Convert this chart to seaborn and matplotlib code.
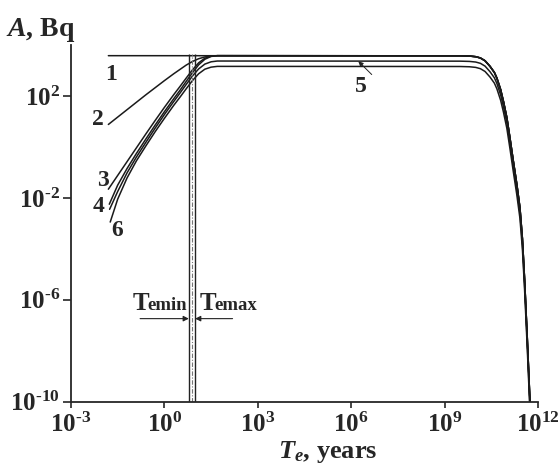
import numpy as np
import pandas as pd
import matplotlib
matplotlib.use("Agg")
import matplotlib.pyplot as plt
from matplotlib.ticker import NullLocator
import seaborn as sns

# ---- data (log10 of time in years, log10 of activity in Bq) ----
rise_logt = [-1.8, -1.5, -1.2, -0.9, -0.6, -0.3, 0.0, 0.3, 0.5, 0.7, 0.9, 1.1, 1.3, 1.5, 1.7]
rise_logt_4 = [-1.77, -1.5, -1.2, -0.9, -0.6, -0.3, 0.0, 0.3, 0.5, 0.7, 0.9, 1.1, 1.3, 1.5, 1.7]
rise_logt_5 = [-1.76, -1.5, -1.2, -0.9, -0.6, -0.3, 0.0, 0.3, 0.5, 0.7, 0.9, 1.1, 1.3, 1.5, 1.7]
rise_logt_6 = [-1.74, -1.5, -1.2, -0.9, -0.6, -0.3, 0.0, 0.3, 0.5, 0.7, 0.9, 1.1, 1.3, 1.5, 1.7]

curve1_rise = [3.58]
curve1_logt = [-1.8]
curve2_rise = [0.88, 1.17, 1.46, 1.75, 2.04, 2.32, 2.60, 2.87, 3.04, 3.21, 3.35, 3.46, 3.53, 3.57, 3.58]
curve3_rise = [-1.66, -1.12, -0.58, -0.04, 0.50, 1.03, 1.55, 2.05, 2.37, 2.70, 3.02, 3.30, 3.48, 3.56, 3.58]
curve4_rise = [-2.25, -1.50, -0.85, -0.26, 0.30, 0.85, 1.38, 1.89, 2.22, 2.57, 2.91, 3.22, 3.44, 3.55, 3.58]
curve5_rise = [-2.45, -1.75, -1.02, -0.40, 0.17, 0.73, 1.27, 1.78, 2.11, 2.45, 2.78, 3.06, 3.25, 3.34, 3.37]
curve6_rise = [-2.95, -2.05, -1.22, -0.55, 0.03, 0.59, 1.12, 1.63, 1.95, 2.28, 2.60, 2.87, 3.05, 3.13, 3.16]

decay_logt = [9.5, 9.8, 10.0, 10.15, 10.3, 10.46, 10.6, 10.68, 10.8, 10.89,
              11.0, 11.1, 11.2, 11.32, 11.42, 11.50, 11.57, 11.655, 11.75]
decline_top = [3.575, 3.565, 3.54, 3.49, 3.38, 3.16, 2.92, 2.70, 2.25, 1.79,
               1.15, 0.35, -0.49, -1.46, -2.38, -3.60, -5.20, -7.47, -10.2]
decline_mid = [3.365, 3.355, 3.33, 3.28, 3.17, 2.95, 2.71, 2.49, 2.04, 1.58,
               0.94, 0.14, -0.70, -1.67, -2.59, -3.81, -5.41, -7.68, -10.41]
decline_bot = [3.155, 3.145, 3.12, 3.07, 2.96, 2.74, 2.50, 2.28, 1.83, 1.37,
               0.73, -0.07, -0.91, -1.88, -2.80, -4.02, -5.62, -7.89, -10.62]

curve_names = ["1", "2", "3", "4", "5", "6"]
curve_parts = {
    "1": (curve1_logt, curve1_rise, decline_top),
    "2": (rise_logt, curve2_rise, decline_top),
    "3": (rise_logt, curve3_rise, decline_top),
    "4": (rise_logt_4, curve4_rise, decline_top),
    "5": (rise_logt_5, curve5_rise, decline_mid),
    "6": (rise_logt_6, curve6_rise, decline_bot),
}

# Te window (log10 years)
te_bounds_log = [0.785, 0.987]
te_mid_log = [0.885]

x_tick_exp = ["-3", "0", "3", "6", "9", "12"]
y_tick_exp = ["-10", "-6", "-2", "2"]

rows = []
for name in curve_names:
    lt, la_rise, la_decay = curve_parts[name]
    for t, a in zip(list(lt) + decay_logt, list(la_rise) + la_decay):
        rows.append({"curve": name, "T": 10.0 ** t, "A": 10.0 ** a})
df = pd.DataFrame(rows)

# ---- style ----
sns.set_style("ticks")
plt.rcParams.update({
    "font.family": ["Liberation Serif", "DejaVu Serif"],
    "font.weight": "bold",
    "mathtext.fontset": "custom",
    "mathtext.rm": "Liberation Serif:bold",
    "mathtext.it": "Liberation Serif:italic:bold",
    "mathtext.bf": "Liberation Serif:bold",
    "axes.linewidth": 1.3,
})


def power_label(exp):
    # short hyphen in the exponent, as in the printed figure
    exp_tex = exp.replace("-", r"\text{-}")
    return r"$\mathrm{10^{%s}}$" % exp_tex


fig = plt.figure(figsize=(5.59, 4.69), dpi=100)
ax = fig.add_axes([0.1270, 0.1435, 0.8354, 0.7606])

sns.lineplot(data=df, x="T", y="A", units="curve", estimator=None, sort=False,
             color="#1a1a1a", linewidth=1.1, ax=ax)

ax.set_xscale("log")
ax.set_yscale("log")
ax.set_xlim(1e-3, 1e12)
ax.set_ylim(1e-10, 1e4)

ax.set_xticks([10.0 ** int(e) for e in x_tick_exp])
ax.set_xticklabels([power_label(e) for e in x_tick_exp], fontsize=18)
ax.set_yticks([10.0 ** int(e) for e in y_tick_exp])
ax.set_yticklabels([power_label(e) for e in y_tick_exp], fontsize=18)
ax.xaxis.set_minor_locator(NullLocator())
ax.yaxis.set_minor_locator(NullLocator())
ax.tick_params(axis="x", length=4, width=1.2, pad=4, direction="out")
ax.tick_params(axis="y", length=6, width=1.2, pad=2, direction="out")
ax.set_xlabel("")
ax.set_ylabel("")
sns.despine(ax=ax)

# Te window lines
ax.vlines([10.0 ** v for v in te_bounds_log], 1e-10, 10 ** 3.64, color="#222222", linewidth=1.0)
ax.vlines([10.0 ** v for v in te_mid_log], 1e-10, 10 ** 3.64, color="#777777",
          linewidth=0.8, linestyles=(0, (4, 1.5, 1, 1.5)))

# Te annotations
arrow_y = 10 ** -6.74
ax.annotate("", xy=(10 ** te_bounds_log[0], arrow_y), xytext=(10 ** -0.78, arrow_y),
            arrowprops=dict(arrowstyle="-|>", lw=0.8, color="#222222", mutation_scale=8,
                            shrinkA=0, shrinkB=0))
ax.annotate("", xy=(10 ** te_bounds_log[1], arrow_y), xytext=(10 ** 2.19, arrow_y),
            arrowprops=dict(arrowstyle="-|>", lw=0.8, color="#222222", mutation_scale=8,
                            shrinkA=0, shrinkB=0))
text_y = 10 ** -6.42
ax.text(10 ** -1.03, text_y, "T", fontsize=18, va="baseline", ha="left")
ax.text(10 ** -0.56, text_y, "emin", fontsize=13.5, va="baseline", ha="left")
ax.text(10 ** 1.12, text_y, "T", fontsize=18, va="baseline", ha="left")
ax.text(10 ** 1.59, text_y, "emax", fontsize=13.5, va="baseline", ha="left")

# curve numbers
label_pos = {"1": (-1.715, 2.85), "2": (-2.13, 1.07), "3": (-1.97, -1.31),
             "4": (-2.13, -2.35), "6": (-1.52, -3.29), "5": (6.32, 2.38)}
for name, (lx, ly) in label_pos.items():
    ax.text(10 ** lx, 10 ** ly, name, fontsize=17, ha="center", va="center")
ax.annotate("", xy=(10 ** 6.23, 10 ** 3.36), xytext=(10 ** 6.66, 10 ** 2.84),
            arrowprops=dict(arrowstyle="-|>", lw=0.7, color="#222222", mutation_scale=7,
                            shrinkA=0, shrinkB=0))

# axis titles
fig.text(6 / 559, 1 - 36 / 469, r"$A$, Bq", fontsize=20, ha="left", va="baseline")
fig.text(328 / 559, 11 / 469, r"$T_e$, years", fontsize=19, ha="center", va="baseline")

fig.savefig("out.png", dpi=100, facecolor="white")
